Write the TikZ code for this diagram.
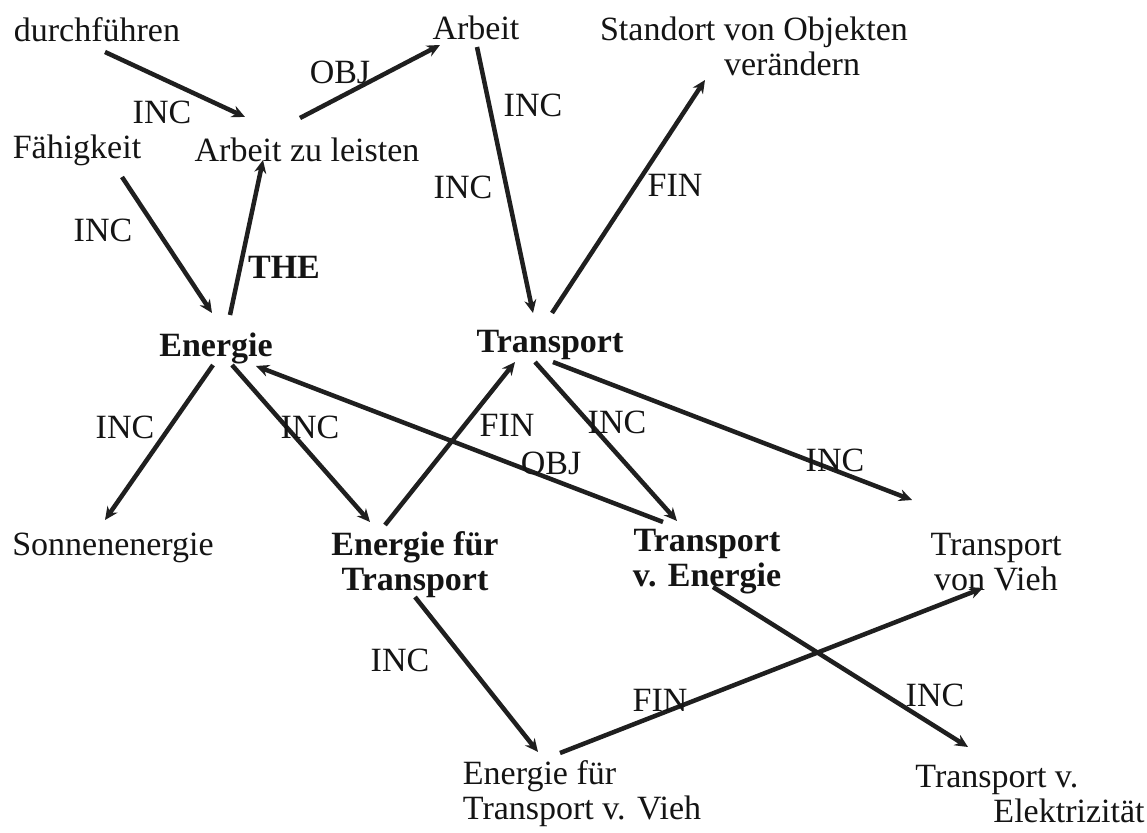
\documentclass[tikz,border=0pt]{standalone}
\usepackage{fontspec}
\setmainfont{Liberation Serif}
\usetikzlibrary{arrows.meta}
\begin{document}
\begin{tikzpicture}[x=1pt,y=-1pt,
  nd/.style={font=\fontsize{34}{35}\selectfont, inner sep=0pt, align=center, text=black!92},
  bnd/.style={nd, font=\fontsize{34}{35}\selectfont\bfseries},
  lbl/.style={font=\fontsize{34}{35}\selectfont, inner sep=0pt, text=black!92},
  blbl/.style={lbl, font=\fontsize{34}{35}\selectfont\bfseries},
  conn/.style={draw=black!88, line width=4.5pt, -{Stealth[length=13pt,width=12pt]}}]
\useasboundingbox[fill=white] (0,0) rectangle (1147,832);

% nodes
\node[nd] (durchf) at (97,30) {durchführen};
\node[nd] (arbeit) at (476,28) {Arbeit};
\node[nd, align=left] (standort) at (754,46) {Standort von Objekten\\\hspace*{124pt}verändern};
\node[nd] (faehig) at (77,150) {Fähigkeit};
\node[nd] (azl) at (307,150) {Arbeit zu leisten};
\node[bnd] (energie) at (216,348) {Energie};
\node[bnd] (transport) at (550,345) {Transport};
\node[nd] (sonnen) at (113,548) {Sonnenenergie};
\node[bnd] (eft) at (415,565) {Energie für\\Transport};
\node[bnd] (tve) at (707,562) {Transport\\v. Energie};
\node[nd] (tvv) at (996,562) {Transport\\von Vieh};
\node[nd, align=left] (eftvv) at (582,794) {Energie für\\Transport v. Vieh};
\node[nd, align=left] (tvel) at (1030,794) {Transport v.\\\hspace*{78pt}Elektrizität};

% connectors
\draw[conn] ([shift={(8,22)}]durchf.center) -- ([shift={(-62,-33)}]azl.center);
\draw[conn] ([shift={(-7,-32)}]azl.center) -- ([shift={(-36,17)}]arbeit.center);
\draw[conn] ([shift={(1,19)}]arbeit.center) -- ([shift={(-17,-32)}]transport.center);
\draw[conn] ([shift={(2,-32)}]transport.center) -- ([shift={(-49,34)}]standort.center);
\draw[conn] ([shift={(45,27)}]faehig.center) -- ([shift={(-4,-35)}]energie.center);
\draw[conn] ([shift={(14,-33)}]energie.center) -- ([shift={(-44,10)}]azl.center);
\draw[conn] ([shift={(-3,17)}]energie.center) -- ([shift={(-8,-28)}]sonnen.center);
\draw[conn] ([shift={(16,17)}]energie.center) -- ([shift={(-45,-43)}]eft.center);
\draw[conn] ([shift={(-30,-40)}]eft.center) -- ([shift={(-35,17)}]transport.center);
\draw[conn] ([shift={(-44,-40)}]tve.center) -- ([shift={(40,18)}]energie.center);
\draw[conn] ([shift={(-15,17)}]transport.center) -- ([shift={(-30,-41)}]tve.center);
\draw[conn] ([shift={(3,17)}]transport.center) -- ([shift={(-84,-62)}]tvv.center);
\draw[conn] ([shift={(0,32)}]eft.center) -- ([shift={(-44,-42)}]eftvv.center);
\draw[conn] ([shift={(-22,-41)}]eftvv.center) -- ([shift={(-13,26)}]tvv.center);
\draw[conn] ([shift={(6,25)}]tve.center) -- ([shift={(-62,-47)}]tvel.center);

% labels
\node[lbl] (l1) at (162,112) {INC};
\node[lbl] (l2) at (340,72) {OBJ};
\node[lbl] (l3) at (533,105) {INC};
\node[lbl] (l4) at (463,187) {INC};
\node[lbl] (l5) at (675,185) {FIN};
\node[lbl] (l6) at (103,230) {INC};
\node[blbl] (l7) at (284,267) {THE};
\node[lbl] (l8) at (125,427) {INC};
\node[lbl] (l9) at (310,427) {INC};
\node[lbl] (l10) at (507,425) {FIN};
\node[lbl] (l11) at (617,422) {INC};
\node[lbl] (l12) at (551,463) {OBJ};
\node[lbl] (l13) at (835,460) {INC};
\node[lbl] (l14) at (400,660) {INC};
\node[lbl] (l15) at (660,700) {FIN};
\node[lbl] (l16) at (935,695) {INC};
\end{tikzpicture}
\end{document}
